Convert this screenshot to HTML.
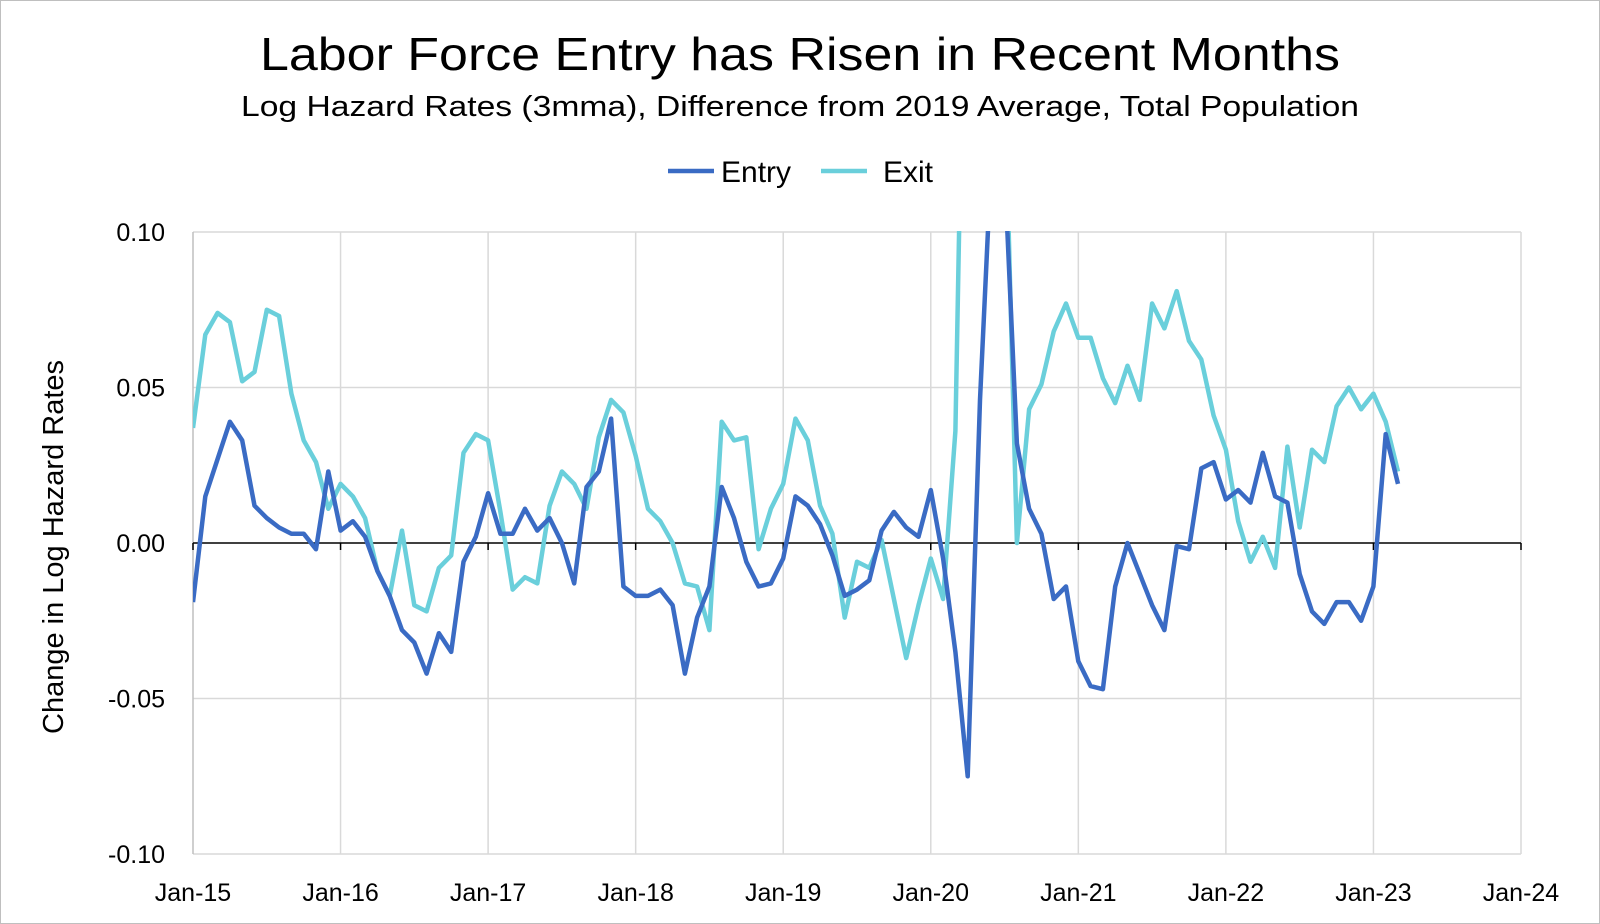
<!DOCTYPE html>
<html><head><meta charset="utf-8"><style>
html,body{margin:0;padding:0;background:#fff}
svg{display:block}
text{font-family:"Liberation Sans",sans-serif;fill:#000}
</style></head><body>
<svg id="chart" width="1600" height="924" viewBox="0 0 1600 924">
<rect x="0.5" y="0.5" width="1599" height="923" fill="#fff" stroke="#bfbfbf"/>
<text x="800" y="70" font-size="46" text-anchor="middle" textLength="1080" lengthAdjust="spacingAndGlyphs">Labor Force Entry has Risen in Recent Months</text>
<text x="800" y="116" font-size="29" text-anchor="middle" textLength="1118" lengthAdjust="spacingAndGlyphs">Log Hazard Rates (3mma), Difference from 2019 Average, Total Population</text>
<g>
<g><line x1="668" y1="171" x2="714" y2="171" stroke="#3a6bc4" stroke-width="4.5"/><text x="721" y="182" font-size="30">Entry</text></g>
<g><line x1="821" y1="171" x2="867" y2="171" stroke="#6acfdb" stroke-width="4.5"/><text x="883" y="182" font-size="30">Exit</text></g>
</g>
<text transform="translate(63,547) rotate(-90)" font-size="29" text-anchor="middle">Change in Log Hazard Rates</text>
<g id="grid"></g>
<g id="axes"></g>
<defs><clipPath id="clip"><rect x="193" y="231" width="1330" height="625"/></clipPath></defs>
<g id="series" clip-path="url(#clip)"></g>
</svg>
<script>
const entryValues=[-0.019,0.015,0.027,0.039,0.033,0.012,0.008,0.005,0.003,0.003,-0.002,0.023,
0.004,0.007,0.002,-0.009,-0.017,-0.028,-0.032,-0.042,-0.029,-0.035,-0.006,0.002,
0.016,0.003,0.003,0.011,0.004,0.008,0.000,-0.013,0.018,0.023,0.040,-0.014,
-0.017,-0.017,-0.015,-0.020,-0.042,-0.024,-0.014,0.018,0.008,-0.006,-0.014,-0.013,
-0.005,0.015,0.012,0.006,-0.004,-0.017,-0.015,-0.012,0.004,0.010,0.005,0.002,
0.017,-0.005,-0.035,-0.075,0.046,0.13,0.12,0.032,0.011,0.003,-0.018,-0.014,
-0.038,-0.046,-0.047,-0.014,0.000,-0.010,-0.020,-0.028,-0.001,-0.002,0.024,0.026,
0.014,0.017,0.013,0.029,0.015,0.013,-0.010,-0.022,-0.026,-0.019,-0.019,-0.025,
-0.014,0.035,0.019];
const exitValues=[0.037,0.067,0.074,0.071,0.052,0.055,0.075,0.073,0.048,0.033,0.026,0.011,
0.019,0.015,0.008,-0.009,-0.017,0.004,-0.020,-0.022,-0.008,-0.004,0.029,0.035,
0.033,0.010,-0.015,-0.011,-0.013,0.012,0.023,0.019,0.011,0.034,0.046,0.042,
0.028,0.011,0.007,0.000,-0.013,-0.014,-0.028,0.039,0.033,0.034,-0.002,0.011,
0.019,0.040,0.033,0.012,0.003,-0.024,-0.006,-0.008,0.001,-0.018,-0.037,-0.020,
-0.005,-0.018,0.036,0.25,0.30,0.25,0.15,0.000,0.043,0.051,0.068,0.077,
0.066,0.066,0.053,0.045,0.057,0.046,0.077,0.069,0.081,0.065,0.059,0.041,
0.030,0.007,-0.006,0.002,-0.008,0.031,0.005,0.030,0.026,0.044,0.050,0.043,
0.048,0.039,0.023];
const yTicks=[0.10,0.05,0.00,-0.05,-0.10];
const yTickLabels=["0.10","0.05","0.00","-0.05","-0.10"];
const xTickLabels=["Jan-15","Jan-16","Jan-17","Jan-18","Jan-19","Jan-20","Jan-21","Jan-22","Jan-23","Jan-24"];
const NS="http://www.w3.org/2000/svg";
const X0=193,X1=1521,Y0=543,PXU=3110;
const xm=m=>X0+(X1-X0)*m/108;
const yv=v=>Y0-v*PXU;
function mk(t,a,p){const e=document.createElementNS(NS,t);for(const k in a)e.setAttribute(k,a[k]);p.appendChild(e);return e;}
const grid=document.getElementById('grid'),axes=document.getElementById('axes'),series=document.getElementById('series');
yTicks.forEach((v,i)=>{
  if(v!==0){const g=mk('line',{x1:X0,x2:X1,y1:yv(v),y2:yv(v),stroke:'#d9d9d9','stroke-width':1.5},grid);
  
  }
  const t=mk('text',{x:165,y:yv(v)+9,'font-size':25,'text-anchor':'end'},axes);t.textContent=yTickLabels[i];
  
  
});
xTickLabels.forEach((l,i)=>{
  const x=xm(i*12);
  const g=mk('line',{x1:x,x2:x,y1:yv(0.10),y2:yv(-0.10),stroke:i===0?'#bfbfbf':'#d9d9d9','stroke-width':1.5},grid);
  
  
  const tk=mk('line',{x1:x,x2:x,y1:Y0,y2:Y0+7,stroke:'#000','stroke-width':1.5},axes);
  
  
  const t=mk('text',{x:x,y:901,'font-size':25,'text-anchor':'middle'},axes);t.textContent=l;
  
  
});
const za=mk('line',{x1:X0,x2:X1,y1:Y0,y2:Y0,stroke:'#000','stroke-width':1.5},axes);


function draw(vals,color,name){
  const d=vals.map((v,i)=>(i?'L':'M')+xm(i).toFixed(1)+' '+yv(v).toFixed(1)).join(' ');
  const p=mk('path',{d:d,fill:'none',stroke:color,'stroke-width':4.5,'stroke-linejoin':'round'},series);
  
  
}
draw(exitValues,'#6acfdb','exit-line');
draw(entryValues,'#3a6bc4','entry-line');
</script>
</body></html>
